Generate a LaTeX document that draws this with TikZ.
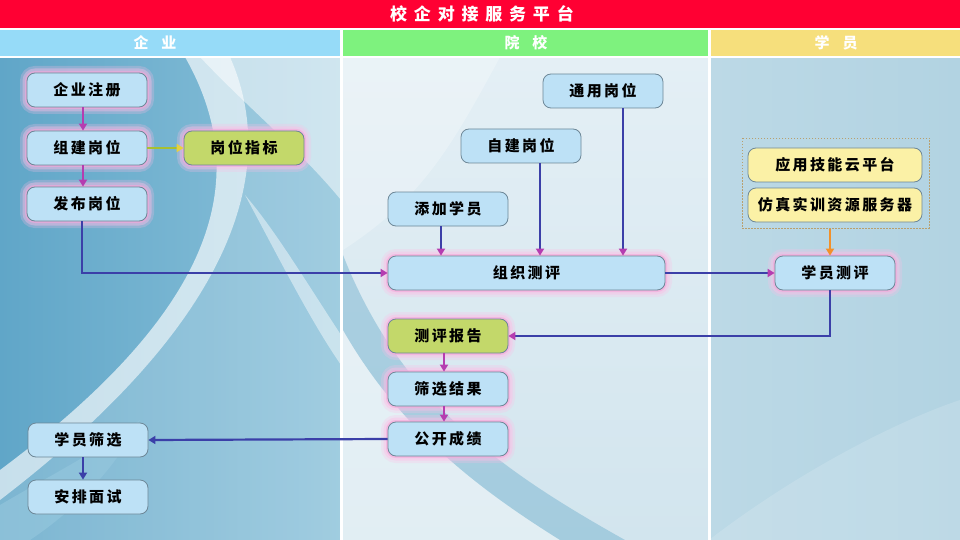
\documentclass[tikz,border=0pt]{standalone}
\usepackage{fontspec}
\newfontfamily\cjk[LetterSpace=16]{Noto Sans CJK SC}
\newfontfamily\cjkt[LetterSpace=40]{Noto Sans CJK SC}
\usetikzlibrary{arrows.meta}
\definecolor{titlered}{HTML}{FF0033}
\definecolor{hblue}{HTML}{96DBF8}
\definecolor{hgreen}{HTML}{7EF27E}
\definecolor{hyellow}{HTML}{F6DF7C}
\definecolor{boxblue}{HTML}{BDE1F6}
\definecolor{boxgreen}{HTML}{C3D86A}
\definecolor{boxyellow}{HTML}{FBF1A6}
\definecolor{boxline}{HTML}{6D8797}
\definecolor{linkblue}{HTML}{3B3FA8}
\definecolor{linkmag}{HTML}{B53DB0}
\definecolor{glowpink}{HTML}{FFBDE6}
\definecolor{glowpink2}{HTML}{F7A6DA}
\definecolor{linkolive}{HTML}{A8C030}
\definecolor{tipyellow}{HTML}{E8D040}
\definecolor{linkorange}{HTML}{F2902A}
\definecolor{dashbrown}{HTML}{B8A070}
\definecolor{bgL1}{RGB}{96,166,200}
\definecolor{bgL2}{RGB}{140,194,218}
\definecolor{bgM1}{RGB}{228,239,245}
\definecolor{bgM2}{RGB}{210,229,238}
\definecolor{bgR1}{RGB}{188,217,230}
\definecolor{bgR2}{RGB}{178,211,226}
\definecolor{swA}{RGB}{150,200,222}
\definecolor{swB}{RGB}{120,180,208}
\tikzset{
  box/.style={draw=boxline, line width=0.8pt, rounded corners=8pt, fill=boxblue,
    minimum width=120pt, minimum height=34pt, inner sep=0pt,
    font=\cjk\bfseries\fontsize{15}{15}\selectfont, text=black},
  glow/.style={preaction={draw=glowpink, line width=14pt, opacity=0.25},
    preaction={draw=glowpink, line width=9pt, opacity=0.4},
    preaction={draw=glowpink2, line width=4pt, opacity=0.6}},
  greenbox/.style={box, fill=boxgreen},
  yellowbox/.style={box, fill=boxyellow, minimum width=174pt},
  link/.style={draw=linkblue, line width=2.2pt, -{Triangle[width=8pt,length=7pt,color=linkmag]}},
  maglink/.style={draw=linkmag, line width=2.2pt, -{Triangle[width=8pt,length=7pt,color=linkmag]}},
  bluelink/.style={draw=linkblue, line width=2.2pt, -{Triangle[width=8pt,length=7pt,color=linkblue]}},
  hdr/.style={font=\cjk\bfseries\fontsize{15}{15}\selectfont, text=white}
}
\begin{document}
\begin{tikzpicture}[x=1pt,y=-1pt]
\useasboundingbox (0,0) rectangle (960,540);
% content background
\shade[left color=bgL1, right color=bgL2] (0,57) rectangle (341,540);
\shade[top color=bgM1, bottom color=bgM2] (341,57) rectangle (709,540);
\shade[left color=bgR1, right color=bgR2] (709,57) rectangle (960,540);
% left column swooshes
\fill[white, opacity=0.18] (230,57) .. controls (280,170) and (235,320) .. (0,500) -- (0,540) -- (341,540) -- (341,57) -- cycle;
\fill[white, opacity=0.5] (200,57) -- (341,57) -- (341,200) .. controls (300,150) and (250,110) .. (200,57) -- cycle;
\fill[white, opacity=0.65] (185,57) .. controls (255,180) and (215,310) .. (0,470) -- (0,500) .. controls (235,320) and (280,170) .. (230,57) -- cycle;
\fill[white, opacity=0.45] (245,195) .. controls (280,260) and (310,320) .. (341,365) -- (341,335) .. controls (305,280) and (275,230) .. (245,195) -- cycle;
\fill[swA, opacity=0.6] (0,505) .. controls (60,470) and (100,450) .. (140,420) .. controls (110,480) and (60,520) .. (30,540) -- (0,540) -- cycle;
% middle swoosh
\fill[white, opacity=0.35] (343,330) .. controls (400,430) and (480,490) .. (560,540) -- (343,540) -- cycle;
\fill[swB, opacity=0.5] (343,330) .. controls (400,430) and (480,490) .. (560,540) -- (625,540) .. controls (500,470) and (400,400) .. (343,255) -- cycle;
\fill[white, opacity=0.25] (343,57) -- (500,57) .. controls (450,150) and (420,200) .. (343,250) -- cycle;
% right subtle light
\fill[white, opacity=0.15] (709,540) .. controls (800,470) and (900,420) .. (960,400) -- (960,540) -- cycle;
% white separators
\fill[white] (0,28) rectangle (960,30);
\fill[white] (0,56) rectangle (960,58);
\fill[white] (340,30) rectangle (343,540);
\fill[white] (708,30) rectangle (711,540);
% title
\fill[titlered] (0,0) rectangle (960,28);
\node[font=\cjkt\bfseries\fontsize{17}{17}\selectfont, text=white] (title) at (482,14) {校企对接服务平台};
% headers
\fill[hblue] (0,30) rectangle (340,56);
\fill[hgreen] (343,30) rectangle (708,56);
\fill[hyellow] (711,30) rectangle (960,56);
\node[hdr] (h1) at (155,43) {企\hspace{13pt}业};
\node[hdr] (h2) at (526,43) {院\hspace{13pt}校};
\node[hdr] (h3) at (836,43) {学\hspace{13pt}员};
% nodes
\node[box, glow] (reg) at (87,90) {企业注册};
\node[box, glow] (build) at (87,148) {组建岗位};
\node[greenbox, glow] (index) at (244,148) {岗位指标};
\node[box, glow] (pub) at (87,204) {发布岗位};
\node[box] (general) at (603,91) {通用岗位};
\node[box] (self) at (521,146) {自建岗位};
\node[box] (add) at (448,209) {添加学员};
\node[box, glow, minimum width=277pt] (org) at (526.5,273) {组织测评};
\node[box, glow] (stu) at (835,273) {学员测评};
\node[yellowbox] (cloud) at (835,165) {应用技能云平台};
\node[yellowbox] (sim) at (835,205) {仿真实训资源服务器};
\draw[dashbrown, dash pattern=on 1.5pt off 1.5pt, line width=0.7pt] (742,138) rectangle (929,228);
\coordinate (dashbot) at (830,229);
\node[greenbox, glow] (report) at (448,336) {测评报告};
\node[box, glow] (filter) at (448,389) {筛选结果};
\node[box, glow] (open) at (448,439) {公开成绩};
\node[box] (sel) at (88,440) {学员筛选};
\node[box] (interview) at (88,497) {安排面试};
% connectors
\draw[maglink] (reg.south -| 83,0) -- (build.north -| 83,0);
\draw[maglink] (build.south -| 83,0) -- (pub.north -| 83,0);
\draw[draw=linkolive, line width=2.2pt, -{Triangle[width=8pt,length=7pt,color=tipyellow]}] (build.east) -- (index.west);
\draw[link] (pub.south -| 82,0) |- (org.west);
\draw[link] (add.south -| 441,0) -- (org.north -| 441,0);
\draw[link] (self.south -| 540,0) -- (org.north -| 540,0);
\draw[link] (general.south -| 623,0) -- (org.north -| 623,0);
\draw[link] (org.east) -- (stu.west);
\draw[draw=linkorange, line width=2.2pt, -{Triangle[width=8pt,length=7pt,color=linkorange]}] (dashbot) -- (stu.north -| dashbot);
\draw[link] (stu.south -| 830,0) |- (report.east);
\draw[maglink] (report.south -| 444,0) -- (filter.north -| 444,0);
\draw[maglink] (filter.south -| 444,0) -- (open.north -| 444,0);
\draw[bluelink] (open.west) -- (sel.east);
\draw[bluelink] (sel.south -| 83,0) -- (interview.north -| 83,0);
\end{tikzpicture}
\end{document}
